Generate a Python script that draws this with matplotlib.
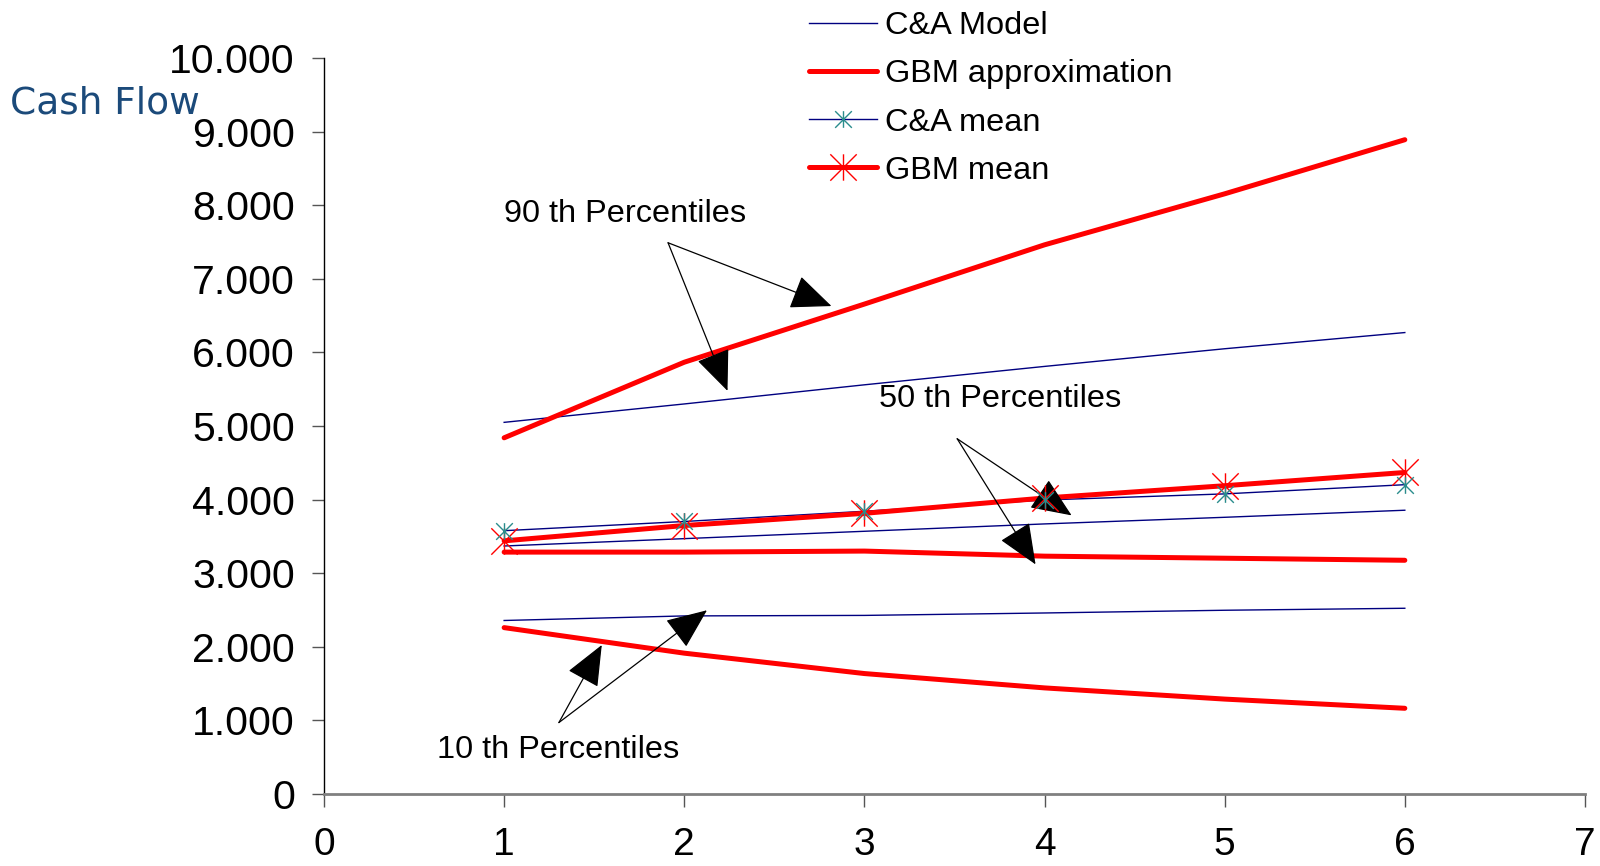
import matplotlib
matplotlib.use("Agg")
import matplotlib.pyplot as plt
from matplotlib.lines import Line2D
from matplotlib.path import Path
from matplotlib.ticker import FuncFormatter

# time steps
periods = [1, 2, 3, 4, 5, 6]

# C&A model percentiles and mean
ca_p90 = [5050, 5300, 5560, 5810, 6050, 6270]
ca_p50 = [3370, 3470, 3570, 3670, 3760, 3856]
ca_p10 = [2358, 2420, 2427, 2460, 2497, 2524]
ca_mean = [3578, 3703, 3842, 3995, 4078, 4203]

# GBM approximation percentiles and mean
gbm_p90 = [4840, 5867, 6657, 7462, 8155, 8890]
gbm_p50 = [3287, 3287, 3301, 3232, 3204, 3176]
gbm_p10 = [2261, 1914, 1637, 1442, 1290, 1165]
gbm_mean = [3440, 3648, 3814, 4022, 4189, 4369]

NAVY = "#000080"
RED = "#FF0000"
TEAL = "#2A8C8C"

# excel-style star: an X plus a vertical stroke
STAR = Path([(0, -1), (0, 1), (-1, -1), (1, 1), (-1, 1), (1, -1)],
            [Path.MOVETO, Path.LINETO] * 3)

plt.rcParams['font.family'] = ['Liberation Sans', 'DejaVu Sans']

fig = plt.figure(figsize=(16, 8.66), dpi=100)
ax = fig.add_axes([0.2025, 0.0831, 0.7881, 0.8499])

for s in (ca_p90, ca_p50, ca_p10):
    ax.plot(periods, s, color=NAVY, lw=1.0, zorder=2)
ax.plot(periods, ca_mean, color=NAVY, lw=1.0, zorder=2)

for s in (gbm_p90, gbm_p50, gbm_p10):
    ax.plot(periods, s, color=RED, lw=3.6, zorder=3, solid_capstyle='round')
ax.plot(periods, gbm_mean, color=RED, lw=3.6, zorder=3, solid_capstyle='round')

# markers on top
ax.plot(periods, gbm_mean, ls='none', marker=STAR, ms=19, mec=RED, mew=1.0, zorder=4)
ax.plot(periods, ca_mean, ls='none', marker=STAR, ms=12, mec=TEAL, mew=1.0, zorder=5)

ax.set_xlim(0, 7)
ax.set_ylim(0, 10000)
ax.set_xticks(range(0, 8))
ax.set_yticks(range(0, 10001, 1000))
ax.yaxis.set_major_formatter(FuncFormatter(lambda v, p: f"{int(v):,}".replace(",", ".")))

for side in ('top', 'right'):
    ax.spines[side].set_visible(False)
ax.spines['left'].set_color('black')
ax.spines['left'].set_linewidth(1.0)
ax.spines['bottom'].set_color('#808080')
ax.spines['bottom'].set_linewidth(2.0)

ax.tick_params(axis='y', direction='out', length=9, width=1, labelsize=29.5, pad=12, color='#555555')
ax.tick_params(axis='x', direction='out', length=9, width=1, labelsize=28, pad=15, color='#555555')

fig.text(0.0065, 1 - 103 / 866, "Cash Flow", family='DejaVu Sans', fontsize=27,
         color="#1B4A7A", ha='left', va='center')

# annotations
arrow = dict(arrowstyle='-|>,head_length=1.3,head_width=0.55', mutation_scale=20,
             color='black', lw=0.9, shrinkA=0, shrinkB=0)

ax.text(1.672, 7878, "90 th Percentiles", fontsize=23.4, ha='center', va='center')
ax.annotate('', xy=(2.817, 6630), xytext=(1.91, 7490), arrowprops=arrow)
ax.annotate('', xy=(2.24, 5478), xytext=(1.91, 7490), arrowprops=arrow)

ax.text(3.753, 5368, "50 th Percentiles", fontsize=23.4, ha='center', va='center')
ax.annotate('', xy=(4.15, 3786), xytext=(3.515, 4827), arrowprops=arrow)
ax.annotate('', xy=(3.95, 3120), xytext=(3.515, 4827), arrowprops=arrow)

ax.text(1.298, 596, "10 th Percentiles", fontsize=23.4, ha='center', va='center')
ax.annotate('', xy=(1.542, 2025), xytext=(1.304, 971), arrowprops=arrow)
ax.annotate('', xy=(2.126, 2497), xytext=(1.304, 971), arrowprops=arrow)

handles = [
    Line2D([], [], color=NAVY, lw=1.0),
    Line2D([], [], color=RED, lw=3.6, solid_capstyle='round'),
    Line2D([], [], color=NAVY, lw=1.0, marker=STAR, ms=12, mec=TEAL, mew=1.0),
    Line2D([], [], color=RED, lw=3.6, marker=STAR, ms=19, mec=RED, mew=1.0, solid_capstyle='round'),
]
labels = ["C&A Model", "GBM approximation", "C&A mean", "GBM mean"]
fig.legend(handles, labels, loc='upper left', bbox_to_anchor=(809 / 1600, 0.987),
           frameon=False, fontsize=23.4, handlelength=2.1, handletextpad=0.25,
           labelspacing=0.56, borderpad=0, borderaxespad=0)

fig.savefig("out.png", dpi=100)
